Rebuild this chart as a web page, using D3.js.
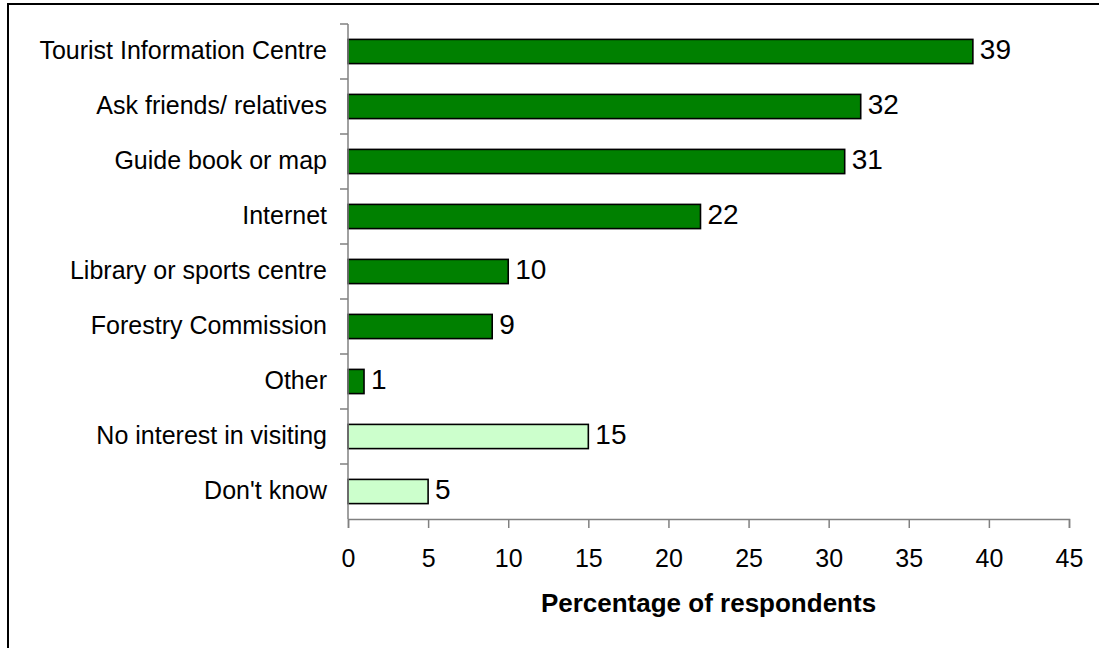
<!DOCTYPE html>
<html>
<head>
<meta charset="utf-8">
<script src="https://cdn.jsdelivr.net/npm/d3@7/dist/d3.min.js"></script>
<style>
  html, body { margin: 0; padding: 0; background: #fff; }
  svg { display: block; font-family: "Liberation Sans", Arial, sans-serif; }
</style>
</head>
<body>
<svg id="chart" width="1099" height="648"></svg>
<script>
// Sources of information about places to visit
const categories = [
  "Tourist Information Centre",
  "Ask friends/ relatives",
  "Guide book or map",
  "Internet",
  "Library or sports centre",
  "Forestry Commission",
  "Other",
  "No interest in visiting",
  "Don't know"
];
const values = [39, 32, 31, 22, 10, 9, 1, 15, 5];
const groups = ["source", "source", "source", "source", "source", "source", "source", "none", "none"];
const xTicks = [0, 5, 10, 15, 20, 25, 30, 35, 40, 45];
const axisTitle = "Percentage of respondents";

const fills = { source: "#008000", none: "#CCFFCC" };

const svg = d3.select("#chart");
const W = 1099, H = 648;
const margin = { left: 348, top: 24 };
const plotW = 1069 - margin.left;
const plotH = 519 - margin.top;

// outer frame
svg.append("rect")
  .attr("x", 8).attr("y", 4)
  .attr("width", W + 20).attr("height", H + 20)
  .attr("fill", "#fff").attr("stroke", "#000").attr("stroke-width", 2);

const g = svg.append("g").attr("transform", `translate(${margin.left},${margin.top})`);

const x = d3.scaleLinear().domain([0, 45]).range([0, plotW]);
const y = d3.scaleBand().domain(categories).range([0, plotH]).paddingInner(0.56).paddingOuter(0.28);

// bars
g.selectAll("rect.bar")
  .data(categories)
  .join("rect")
  .attr("class", "bar")
  .attr("x", x(0))
  .attr("y", d => y(d))
  .attr("width", (d, i) => x(values[i]) - x(0))
  .attr("height", y.bandwidth())
  .attr("fill", (d, i) => fills[groups[i]])
  .attr("stroke", "#000")
  .attr("stroke-width", 1.6);

// value labels
g.selectAll("text.val")
  .data(categories)
  .join("text")
  .attr("class", "val")
  .attr("x", (d, i) => x(values[i]) + 7)
  .attr("y", d => y(d) + y.bandwidth() / 2)
  .attr("dy", "0.28em")
  .attr("font-size", 28)
  .attr("fill", "#000")
  .text((d, i) => values[i]);

// y axis: line with ticks between categories
const yAxisG = g.append("g");
yAxisG.append("line")
  .attr("x1", 0).attr("x2", 0).attr("y1", 0).attr("y2", plotH)
  .attr("stroke", "#808080").attr("stroke-width", 1.5);
const step = plotH / categories.length;
yAxisG.selectAll("line.tk")
  .data(d3.range(categories.length))
  .join("line")
  .attr("class", "tk")
  .attr("x1", -8).attr("x2", 0)
  .attr("y1", i => i * step).attr("y2", i => i * step)
  .attr("stroke", "#808080").attr("stroke-width", 1.5);
yAxisG.selectAll("text.cat")
  .data(categories)
  .join("text")
  .attr("class", "cat")
  .attr("x", -21)
  .attr("y", d => y(d) + y.bandwidth() / 2)
  .attr("dy", "0.28em")
  .attr("text-anchor", "end")
  .attr("font-size", 25)
  .attr("fill", "#000")
  .text(d => d);

// x axis
const xAxis = d3.axisBottom(x).tickValues(xTicks).tickSize(9).tickPadding(21).tickFormat(d3.format("d"));
const xAxisG = g.append("g").attr("transform", `translate(0,${plotH})`).call(xAxis);
xAxisG.select(".domain").attr("stroke", "#808080").attr("stroke-width", 1.5);
xAxisG.selectAll(".tick line").attr("stroke", "#808080").attr("stroke-width", 1.5);
xAxisG.selectAll(".tick text")
  .attr("font-size", 25)
  .attr("font-family", "Liberation Sans, Arial, sans-serif")
  .attr("fill", "#000");

// axis title
svg.append("text")
  .attr("x", margin.left + plotW / 2)
  .attr("y", 612)
  .attr("text-anchor", "middle")
  .attr("font-size", 26)
  .attr("font-weight", "bold")
  .attr("fill", "#000")
  .text(axisTitle);
</script>
</body>
</html>
